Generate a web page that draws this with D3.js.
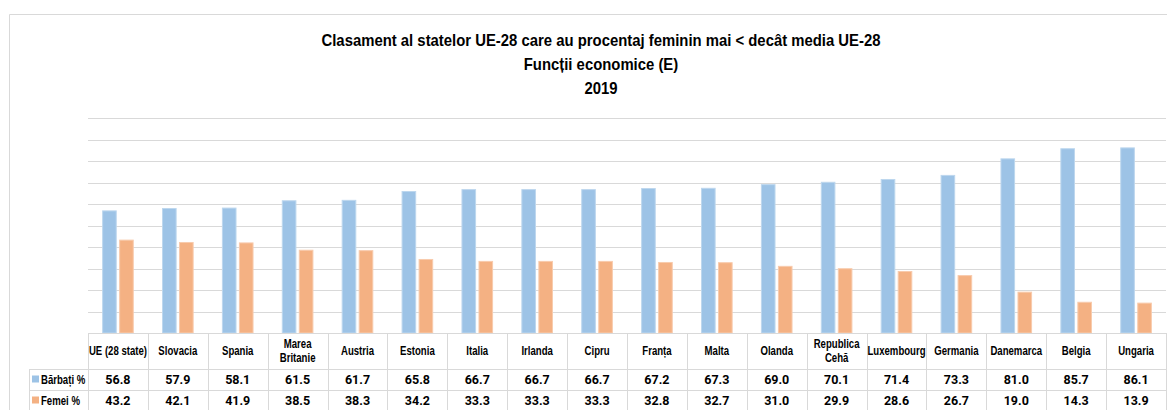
<!DOCTYPE html>
<html>
<head>
<meta charset="utf-8">
<script src="https://cdn.jsdelivr.net/npm/d3@7"></script>
<style>
  body { margin: 0; background: #fff; }
  svg { display: block; }
  .title { font-family: 'Liberation Sans', Arial, sans-serif; font-weight: bold; font-size: 16px; fill: #000; }
  .cat-label, .legend-label { font-family: 'Liberation Sans', Arial, sans-serif; font-weight: bold; font-size: 12px; fill: #000; }
  .value { font-family: Roboto, sans-serif; font-weight: bold; font-size: 12.5px; fill: #000; }
  .grid line, .table-line { stroke: #d9d9d9; stroke-width: 1; }
</style>
</head>
<body>
<svg id="chart"></svg>
<script>
const categories = ['UE (28 state)', 'Slovacia', 'Spania', 'Marea\nBritanie', 'Austria', 'Estonia', 'Italia',
    'Irlanda', 'Cipru', 'Franța', 'Malta', 'Olanda', 'Republica\nCehă', 'Luxembourg', 'Germania',
    'Danemarca', 'Belgia', 'Ungaria'];
const barbati = [56.8, 57.9, 58.1, 61.5, 61.7, 65.8, 66.7, 66.7, 66.7, 67.2, 67.3, 69.0, 70.1, 71.4, 73.3, 81.0, 85.7, 86.1];
const femei = [43.2, 42.1, 41.9, 38.5, 38.3, 34.2, 33.3, 33.3, 33.3, 32.8, 32.7, 31.0, 29.9, 28.6, 26.7, 19.0, 14.3, 13.9];
const seriesNames = ['Bărbați %', 'Femei %'];
const seriesColors = ['#9dc3e6', '#f4b183'];
const seriesStrokes = ['#bdd7ee', '#f8cbad'];
const yTicks = [10, 20, 30, 40, 50, 60, 70, 80, 90, 100];
const titleLines = ['Clasament al statelor UE-28 care au procentaj feminin mai < decât media UE-28',
    'Funcții economice (E)', '2019'];

const W = 1167;
const H = 410;
const plotLeft = 88;
const plotRight = 1166;
const plotTop = 118;
const plotBottom = 333;
const rowTops = [333, 369, 390, 411];
const legendLeft = 29.5;
const narrow = 0.8;   // fake a condensed face, no narrow font installed

const svg = d3.select('#chart')
    .attr('width', W)
    .attr('height', H);

// outer chart frame
svg.append('path')
    .attr('class', 'table-line')
    .attr('fill', 'none')
    .attr('d', `M9.5,${H}V14.5H${W}`);

const title = svg.append('g').attr('class', 'title-g');
titleLines.forEach((t, i) => {
    title.append('text')
        .attr('class', 'title')
        .attr('text-anchor', 'middle')
        .attr('transform', `translate(601,${46 + i * 24}) scale(0.93,1)`)
        .text(t);
});

const x0 = d3.scaleBand()
    .domain(categories)
    .range([plotLeft, plotRight])
    .padding(0);

const x1 = d3.scaleBand()
    .domain(seriesNames)
    .range([0, x0.bandwidth()])
    .paddingInner(0.2)
    .paddingOuter(0.86);

const y = d3.scaleLinear()
    .domain([0, 100])
    .range([plotBottom, plotTop]);

const grid = svg.append('g').attr('class', 'grid');
grid.selectAll('line').data(yTicks)
  .enter().append('line')
    .attr('x1', plotLeft)
    .attr('x2', plotRight)
    .attr('y1', d => Math.round(y(d)) + 0.5)
    .attr('y2', d => Math.round(y(d)) + 0.5);

const rows = categories.map((c, i) => ({ cat: c, values: [barbati[i], femei[i]] }));

const groups = svg.append('g').attr('class', 'bars')
    .selectAll('g').data(rows)
  .enter().append('g')
    .attr('transform', d => `translate(${x0(d.cat)},0)`);

groups.selectAll('rect')
    .data(d => d.values.map((v, j) => ({ series: seriesNames[j], value: v, j })))
  .enter().append('rect')
    .attr('x', d => x1(d.series))
    .attr('width', x1.bandwidth())
    .attr('y', d => y(d.value))
    .attr('height', d => plotBottom - y(d.value))
    .attr('fill', d => seriesColors[d.j])
    .attr('stroke', d => seriesStrokes[d.j])
    .attr('stroke-width', 1);

// data table
const table = svg.append('g').attr('class', 'table');

table.append('line').attr('class', 'table-line')
    .attr('x1', plotLeft).attr('x2', plotRight)
    .attr('y1', rowTops[0] + 0.5).attr('y2', rowTops[0] + 0.5);

rowTops.slice(1).forEach(ry => {
    table.append('line').attr('class', 'table-line')
        .attr('x1', legendLeft).attr('x2', plotRight)
        .attr('y1', ry + 0.5).attr('y2', ry + 0.5);
});

const colEdges = categories.map(c => x0(c)).concat([plotRight]);
table.selectAll('.col-line').data(colEdges)
  .enter().append('line')
    .attr('class', 'table-line col-line')
    .attr('x1', d => Math.round(d) + 0.5)
    .attr('x2', d => Math.round(d) + 0.5)
    .attr('y1', rowTops[0])
    .attr('y2', H);

table.append('line').attr('class', 'table-line')
    .attr('x1', legendLeft).attr('x2', legendLeft)
    .attr('y1', rowTops[1]).attr('y2', H);

const headerMid = (rowTops[0] + rowTops[1]) / 2;
categories.forEach(c => {
    const lines = c.split('\n');
    const cx = x0(c) + x0.bandwidth() / 2;
    const t = table.append('text')
        .attr('class', 'cat-label')
        .attr('text-anchor', 'middle')
        .attr('transform', `translate(${cx},${headerMid - (lines.length - 1) * 7.5 + 4}) scale(${narrow},1)`);
    lines.forEach((l, k) => {
        t.append('tspan')
            .attr('x', 0)
            .attr('dy', k === 0 ? 0 : 14.5)
            .text(l);
    });
});

const fmt = d3.format('.1f');
[barbati, femei].forEach((vals, j) => {
    const mid = (rowTops[j + 1] + rowTops[j + 2]) / 2;
    table.selectAll(`.value-${j}`).data(vals)
      .enter().append('text')
        .attr('class', `value value-${j}`)
        .attr('text-anchor', 'middle')
        .attr('x', (d, i) => x0(categories[i]) + x0.bandwidth() / 2)
        .attr('y', mid + 4.5)
        .text(d => fmt(d));

    table.append('rect')
        .attr('x', 32)
        .attr('y', mid - 4)
        .attr('width', 7)
        .attr('height', 7)
        .attr('fill', seriesColors[j]);

    table.append('text')
        .attr('class', 'legend-label')
        .attr('transform', `translate(41,${mid + 4}) scale(${narrow},1)`)
        .text(seriesNames[j]);
});
</script>
</body>
</html>
